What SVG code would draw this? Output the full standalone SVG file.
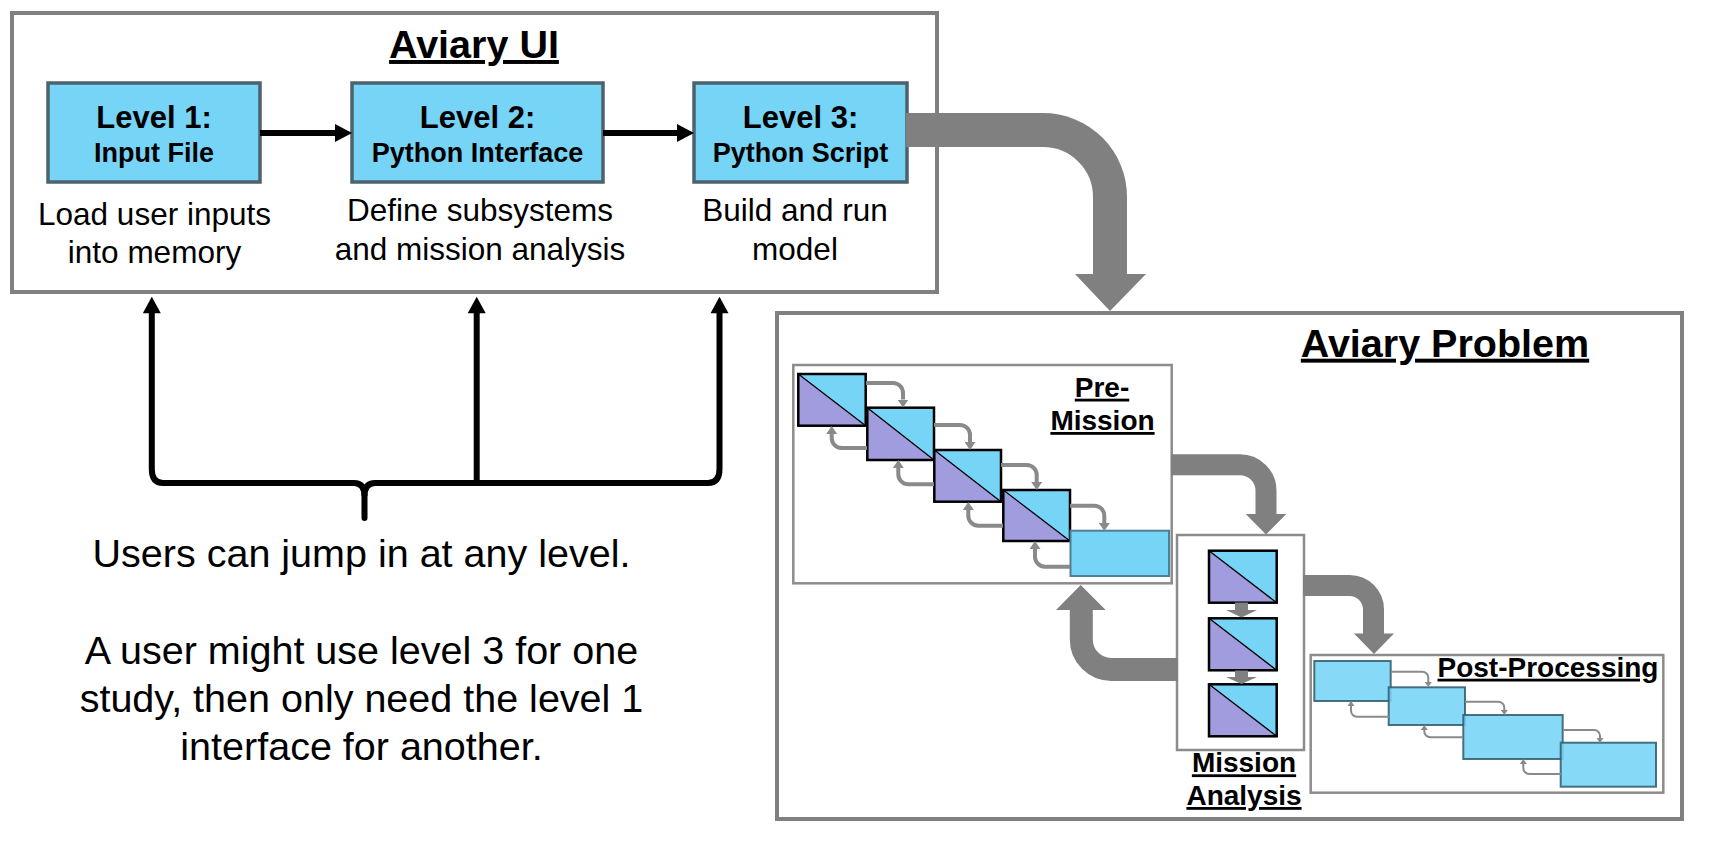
<svg xmlns="http://www.w3.org/2000/svg" width="1709" height="843" viewBox="0 0 1709 843">
<style>
.frame{fill:#fff;stroke:#808080;stroke-width:4}
.sub{fill:#fff;stroke:#8c8c8c;stroke-width:2.5}
.lvl{fill:#76d4f7;stroke:#4d626c;stroke-width:3.5}
.t{font-family:"Liberation Sans",Arial,sans-serif;fill:#000;text-anchor:middle}
.b{font-weight:bold}
.u{text-decoration:underline}
.big{fill:none;stroke:#808080;stroke-linejoin:round}
.bh{fill:#808080}
.sm{fill:none;stroke:#8a8a8a;stroke-width:4}
.tn{fill:none;stroke:#8a8a8a;stroke-width:2}
.blk{fill:none;stroke:#000;stroke-width:6}
.pur{fill:#a09cde}
.blu{fill:#76d4f7}
.edge{fill:none;stroke:#000;stroke-width:2.5}
.diag{stroke:#000;stroke-width:1.3}
.pp{fill:#76d4f7;fill-opacity:0.88;stroke:#2f5a6a;stroke-opacity:0.85;stroke-width:2}
</style>
<defs>
<marker id="ha" markerUnits="userSpaceOnUse" viewBox="0 0 10 10" refX="0" refY="5" markerWidth="8" markerHeight="11" orient="auto" preserveAspectRatio="none">
<path d="M0,0 L10,5 L0,10 Z" fill="#8a8a8a"/>
</marker>
<marker id="hb" markerUnits="userSpaceOnUse" viewBox="0 0 10 10" refX="0" refY="5" markerWidth="5" markerHeight="7" orient="auto" preserveAspectRatio="none">
<path d="M0,0 L10,5 L0,10 Z" fill="#8a8a8a"/>
</marker>
</defs>

<g id="aviary-ui">
<rect class="frame" x="12" y="13" width="925" height="279"/>
<text class="t b u" x="474" y="58" font-size="39.5">Aviary UI</text>
</g>

<g id="level1">
<rect class="lvl" x="48" y="83" width="212" height="99"/>
<text class="t b" x="154" y="127.7" font-size="31">Level 1:</text>
<text class="t b" x="154" y="162" font-size="27">Input File</text>
<text class="t" x="154.5" y="224.5" font-size="31.5">Load user inputs</text>
<text class="t" x="154.5" y="262.5" font-size="31.5">into memory</text>
</g>

<g id="level2">
<rect class="lvl" x="352" y="83" width="251" height="99"/>
<text class="t b" x="477.5" y="127.7" font-size="31">Level 2:</text>
<text class="t b" x="477.5" y="162" font-size="27">Python Interface</text>
<text class="t" x="480" y="221" font-size="31.5">Define subsystems</text>
<text class="t" x="480" y="260" font-size="31.5">and mission analysis</text>
</g>

<g id="level3">
<rect class="lvl" x="694" y="83" width="213" height="99"/>
<text class="t b" x="800.5" y="127.7" font-size="31">Level 3:</text>
<text class="t b" x="800.5" y="162" font-size="27">Python Script</text>
<text class="t" x="795" y="221" font-size="31.5">Build and run</text>
<text class="t" x="795" y="260" font-size="31.5">model</text>
</g>

<g id="note">
<text class="t" x="361.5" y="566.7" font-size="39.5">Users can jump in at any level.</text>
<text class="t" x="361.5" y="663.5" font-size="39.5">A user might use level 3 for one</text>
<text class="t" x="361.5" y="711.8" font-size="39.5">study, then only need the level 1</text>
<text class="t" x="361.5" y="760" font-size="39.5">interface for another.</text>
</g>

<g id="aviary-problem">
<rect class="frame" x="777" y="313" width="905" height="506"/>
<text class="t b u" x="1445" y="356.7" font-size="39.5">Aviary Problem</text>
</g>

<g id="pre-mission">
<rect class="sub" x="793.3" y="365" width="378.4" height="218.3"/>
<g>
<rect class="pur" x="798.3" y="374" width="67.4" height="51.7"/>
<polygon class="blu" points="798.3,374 865.7,374 865.7,425.7"/>
<line class="diag" x1="798.3" y1="374" x2="865.7" y2="425.7"/>
<rect class="edge" x="798.3" y="374" width="67.4" height="51.7"/>
</g>
<g>
<rect class="pur" x="867.3" y="407.7" width="66.7" height="52.3"/>
<polygon class="blu" points="867.3,407.7 934,407.7 934,460"/>
<line class="diag" x1="867.3" y1="407.7" x2="934" y2="460"/>
<rect class="edge" x="867.3" y="407.7" width="66.7" height="52.3"/>
</g>
<g>
<rect class="pur" x="934.3" y="450" width="66.7" height="51.7"/>
<polygon class="blu" points="934.3,450 1001,450 1001,501.7"/>
<line class="diag" x1="934.3" y1="450" x2="1001" y2="501.7"/>
<rect class="edge" x="934.3" y="450" width="66.7" height="51.7"/>
</g>
<g>
<rect class="pur" x="1003.3" y="490" width="66.7" height="51"/>
<polygon class="blu" points="1003.3,490 1070,490 1070,541"/>
<line class="diag" x1="1003.3" y1="490" x2="1070" y2="541"/>
<rect class="edge" x="1003.3" y="490" width="66.7" height="51"/>
</g>
<rect x="1070.5" y="530.7" width="98.5" height="45.3" fill="#76d4f7" stroke="#4f7f95" stroke-width="2"/>
<text class="t b u" x="1102" y="396.7" font-size="28">Pre-</text>
<text class="t b u" x="1102.5" y="430" font-size="28">Mission</text>
</g>

<g id="mission-analysis">
<rect class="sub" x="1177" y="535" width="127" height="215"/>
<g>
<rect class="pur" x="1209" y="550.7" width="67.7" height="52"/>
<polygon class="blu" points="1209,550.7 1276.7,550.7 1276.7,602.7"/>
<line class="diag" x1="1209" y1="550.7" x2="1276.7" y2="602.7"/>
<rect class="edge" x="1209" y="550.7" width="67.7" height="52"/>
</g>
<g>
<rect class="pur" x="1209" y="618.3" width="67.7" height="52"/>
<polygon class="blu" points="1209,618.3 1276.7,618.3 1276.7,670.3"/>
<line class="diag" x1="1209" y1="618.3" x2="1276.7" y2="670.3"/>
<rect class="edge" x="1209" y="618.3" width="67.7" height="52"/>
</g>
<g>
<rect class="pur" x="1209" y="684.3" width="67.7" height="52"/>
<polygon class="blu" points="1209,684.3 1276.7,684.3 1276.7,736.3"/>
<line class="diag" x1="1209" y1="684.3" x2="1276.7" y2="736.3"/>
<rect class="edge" x="1209" y="684.3" width="67.7" height="52"/>
</g>
<text class="t b u" x="1244" y="772.3" font-size="28">Mission</text>
<text class="t b u" x="1244" y="805" font-size="28">Analysis</text>
</g>

<g id="post-processing">
<rect class="sub" x="1310.7" y="655" width="352.6" height="137.7"/>
<rect class="pp" x="1314.3" y="661" width="76.4" height="40"/>
<rect class="pp" x="1388.7" y="687.3" width="76.3" height="37.7"/>
<rect class="pp" x="1463.3" y="715" width="99.4" height="44"/>
<rect class="pp" x="1560.7" y="742.7" width="95.3" height="44"/>
<text class="t b u" x="1548" y="676.7" font-size="28">Post-Processing</text>
</g>

<g id="connectors">
<line class="blk" x1="260" y1="133" x2="336" y2="133"/>
<polygon points="335,124 352,133 335,142" fill="#000"/>
<line class="blk" x1="603" y1="133" x2="678" y2="133"/>
<polygon points="677,124 694,133 677,142" fill="#000"/>
<path class="blk" stroke-width="5.5" d="M151.8,312 V469 Q151.8,483 163,483 H354 Q364.5,483 364.5,496 V518" stroke-linecap="round"/>
<path class="blk" stroke-width="5.5" d="M364.5,496 Q364.5,483 375,483 H708 Q719.5,483 719.5,469 V312"/>
<path class="blk" stroke-width="5.5" d="M476.7,483 V312"/>
<polygon points="142.8,313.3 160.8,313.3 151.8,296.7" fill="#000"/>
<polygon points="467.7,313.3 485.7,313.3 476.7,296.7" fill="#000"/>
<polygon points="710.5,313.3 728.5,313.3 719.5,296.7" fill="#000"/>
<path class="big" stroke-width="34" d="M906,130 H1043 A67,67 0 0 1 1110,197 V275"/>
<polygon class="bh" points="1075,274 1146,274 1110,311"/>
<path class="big" stroke-width="21" d="M1171,464.7 H1240 A26,26 0 0 1 1266,490.7 V515"/>
<polygon class="bh" points="1245.7,514 1286.3,514 1266,534.5"/>
<path class="big" stroke-width="21" d="M1303,585.5 H1349.5 A24,24 0 0 1 1373.5,609.5 V634"/>
<polygon class="bh" points="1354,633.5 1394,633.5 1374,654"/>
<path class="big" stroke-width="23" d="M1178,669.5 H1111.3 A30,30 0 0 1 1081.3,639.5 V609"/>
<polygon class="bh" points="1056,610 1105.7,610 1080.7,585"/>
<rect class="bh" x="1235" y="602.5" width="13" height="8"/>
<polygon class="bh" points="1226,610 1257,610 1241.5,617.5"/>
<rect class="bh" x="1235" y="670.5" width="13" height="7"/>
<polygon class="bh" points="1226,677 1257,677 1241.5,684"/>
<path class="sm" marker-end="url(#ha)" d="M866,383 H893 A10,10 0 0 1 903,393 V399.5"/>
<path class="sm" marker-end="url(#ha)" d="M934,425 H960 A10,10 0 0 1 970,435 V442"/>
<path class="sm" marker-end="url(#ha)" d="M1001,465 H1026.7 A10,10 0 0 1 1036.7,475 V482"/>
<path class="sm" marker-end="url(#ha)" d="M1070,505.7 H1094.3 A10,10 0 0 1 1104.3,515.7 V523"/>
<path class="sm" marker-end="url(#ha)" d="M867,448 H841.7 A10,10 0 0 1 831.7,438 V434"/>
<path class="sm" marker-end="url(#ha)" d="M934,484.3 H908.3 A10,10 0 0 1 898.3,474.3 V468"/>
<path class="sm" marker-end="url(#ha)" d="M1003,525.7 H978.3 A10,10 0 0 1 968.3,515.7 V510"/>
<path class="sm" marker-end="url(#ha)" d="M1070,566.7 H1045 A10,10 0 0 1 1035,556.7 V549"/>
<path class="tn" marker-end="url(#hb)" d="M1391,671.7 H1422.3 A6,6 0 0 1 1428.3,677.7 V682"/>
<path class="tn" marker-end="url(#hb)" d="M1465,701.7 H1498.3 A6,6 0 0 1 1504.3,707.7 V710"/>
<path class="tn" marker-end="url(#hb)" d="M1563,730 H1594 A6,6 0 0 1 1600,736 V738"/>
<path class="tn" marker-end="url(#hb)" d="M1389,716.7 H1357 A6,6 0 0 1 1351,710.7 V706"/>
<path class="tn" marker-end="url(#hb)" d="M1463,737.3 H1430.3 A6,6 0 0 1 1424.3,731.3 V730"/>
<path class="tn" marker-end="url(#hb)" d="M1561,774 H1529.3 A6,6 0 0 1 1523.3,768 V764"/>
</g>
</svg>
